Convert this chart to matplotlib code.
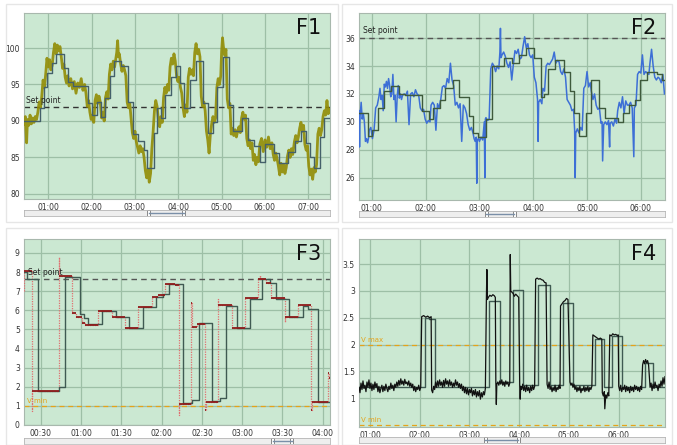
import matplotlib
matplotlib.use("Agg")
import matplotlib.pyplot as plt
from matplotlib.patches import Rectangle
from matplotlib.ticker import FuncFormatter, MultipleLocator

# ---------------- F1 ----------------
f1_t = [0.44, 0.47, 0.50, 0.52, 0.55, 0.58, 0.61, 0.64, 0.67, 0.70, 0.73,
        0.76, 0.79, 0.82, 0.85, 0.88, 0.91, 0.94,
        0.97, 1.00, 1.03, 1.06, 1.09,
        1.12, 1.15, 1.18, 1.21, 1.24, 1.27, 1.30,
        1.33, 1.36, 1.39, 1.42, 1.45, 1.48,
        1.52, 1.56, 1.60, 1.64, 1.68, 1.72, 1.76, 1.80, 1.84, 1.87,
        1.90, 1.93, 1.96, 1.99, 2.02, 2.05,
        2.08, 2.11, 2.14, 2.17, 2.20,
        2.23, 2.26, 2.29,
        2.32, 2.35, 2.38,
        2.41, 2.44, 2.47, 2.50, 2.53,
        2.56, 2.58, 2.60, 2.62, 2.64,
        2.67, 2.70, 2.73, 2.76, 2.79,
        2.82, 2.85, 2.88, 2.91,
        2.94, 2.97, 3.00, 3.03,
        3.06, 3.09, 3.12, 3.15, 3.18, 3.21,
        3.24, 3.27, 3.30, 3.33, 3.36,
        3.39, 3.42, 3.45, 3.48, 3.51,
        3.54, 3.57, 3.60, 3.63,
        3.66, 3.69, 3.72, 3.75, 3.78,
        3.81, 3.84, 3.87, 3.90, 3.93,
        3.96, 3.99, 4.02, 4.05, 4.08,
        4.11, 4.14, 4.17, 4.20,
        4.23, 4.26, 4.29, 4.32, 4.35,
        4.38, 4.41, 4.44, 4.47, 4.50,
        4.53, 4.56, 4.59, 4.62,
        4.65, 4.68, 4.71, 4.74,
        4.77, 4.80, 4.83, 4.86,
        4.89, 4.92, 4.95, 4.98,
        5.00, 5.02, 5.04, 5.07, 5.10,
        5.13, 5.16, 5.19,
        5.22, 5.25, 5.28, 5.31, 5.34, 5.37, 5.40, 5.43,
        5.46, 5.49, 5.52, 5.55,
        5.58, 5.61, 5.64, 5.67, 5.70,
        5.73, 5.76, 5.79, 5.82, 5.85,
        5.88, 5.92, 5.96, 6.00, 6.04, 6.08, 6.12, 6.16,
        6.19, 6.22, 6.25, 6.28,
        6.31, 6.34, 6.37, 6.40, 6.43, 6.46, 6.49,
        6.52, 6.55, 6.58, 6.61, 6.64,
        6.68, 6.71, 6.74, 6.77,
        6.80, 6.83, 6.86, 6.89,
        6.92, 6.95, 6.98,
        7.01, 7.04, 7.07, 7.10, 7.13, 7.16, 7.19,
        7.22, 7.25, 7.28, 7.31,
        7.34, 7.37, 7.40, 7.43, 7.46, 7.50]
f1_v = [89.6, 90.6, 87.0, 90.2, 89.4, 90.8, 89.6, 90.4, 89.8, 90.6, 90.2,
        91.2, 92.6, 91.8, 93.4, 95.6, 94.6, 96.4,
        98.6, 97.4, 98.4, 97.0, 97.6,
        99.4, 100.6, 99.2, 100.4, 99.6, 100.2, 98.8,
        97.2, 97.8, 96.0, 95.2, 96.2, 94.8,
        95.8, 94.4, 95.4, 93.8, 95.2, 94.6, 95.8, 94.2, 95.0, 93.8,
        92.0, 92.8, 91.2, 90.2, 90.8, 89.8,
        92.8, 93.6, 92.4, 93.4, 92.6,
        90.4, 91.2, 90.0,
        93.2, 94.0, 93.0,
        96.4, 97.8, 97.0, 98.2, 97.4,
        98.6, 99.4, 101.0, 98.8, 99.2,
        97.8, 96.8, 97.6, 97.0, 96.2,
        92.6, 91.8, 92.4, 90.4,
        88.4, 87.6, 88.6, 87.2,
        86.4, 85.6, 86.6, 85.8, 86.2, 85.0,
        83.2, 82.2, 83.4, 81.6, 82.8,
        86.2, 88.6, 91.4, 92.8, 92.0,
        90.2, 89.2, 90.6, 89.8,
        93.2, 94.6, 93.8, 95.0, 94.2,
        97.4, 98.6, 97.8, 99.2, 98.2,
        96.2, 95.4, 96.0, 94.6, 93.8,
        91.8, 90.6, 92.2, 91.2,
        96.0, 97.2, 96.4, 97.0, 96.2,
        99.4, 100.6, 99.2, 99.8, 98.8,
        93.4, 92.0, 92.6, 91.4,
        88.6, 87.4, 85.6, 88.2,
        89.6, 90.6, 89.8, 90.4,
        94.6, 95.8, 95.0, 96.2,
        99.6, 101.4, 100.2, 99.0, 99.8,
        93.0, 91.8, 92.4,
        88.2, 89.0, 88.0, 88.8, 87.8, 88.6, 89.2, 88.4,
        90.4, 91.2, 90.2, 90.8,
        87.6, 86.6, 87.4, 86.2, 87.0,
        84.6, 85.4, 84.0, 85.0, 84.4,
        86.8, 87.6, 85.8, 87.4, 86.4, 87.8, 86.2, 87.0,
        85.4, 84.6, 85.6, 84.8,
        83.8, 82.6, 84.2, 83.0, 84.0, 82.8, 83.6,
        85.2, 86.0, 85.0, 86.2, 85.4,
        87.2, 88.0, 87.0, 87.8,
        89.0, 89.8, 88.6, 89.4,
        86.8, 86.0, 86.6,
        83.8, 82.6, 83.4, 82.0, 83.6, 83.0, 84.0,
        88.2, 89.0, 88.0, 88.8,
        90.6, 91.4, 90.8, 92.8, 91.0, 91.6]
f1_step_t = [0.44, 0.80, 0.90, 0.98, 1.08, 1.18, 1.36, 1.46, 1.58, 1.92, 2.00,
             2.12, 2.22, 2.30, 2.42, 2.52, 2.68, 2.84, 2.96, 3.06, 3.20, 3.28,
             3.44, 3.52, 3.60, 3.70, 3.84, 3.94, 4.04, 4.14, 4.26, 4.40, 4.56,
             4.68, 4.80, 4.90, 5.02, 5.16, 5.26, 5.48, 5.60, 5.74, 5.88, 6.00,
             6.20, 6.32, 6.54, 6.70, 6.82, 6.94, 7.04, 7.14, 7.26, 7.36, 7.50]
f1_step_v = [90.0, 91.8, 94.6, 96.6, 98.0, 99.2, 97.2, 95.4, 94.8, 92.4, 90.8,
             92.6, 90.6, 93.2, 96.2, 98.2, 97.6, 92.6, 88.2, 87.2, 86.0, 83.6,
             88.4, 91.8, 90.4, 93.6, 96.0, 97.6, 95.2, 91.8, 95.6, 98.2, 92.4,
             88.4, 89.8, 94.6, 98.8, 92.2, 88.6, 90.4, 87.4, 86.6, 84.4, 86.8,
             85.6, 84.2, 85.8, 87.2, 88.6, 87.0, 85.0, 83.6, 87.8, 90.4, 90.4]
f1_setpoint = 91.9

# ---------------- F2 ----------------
f2_t = [0.76, 0.77, 0.78, 0.80, 0.82, 0.84, 0.86,
        0.88, 0.90, 0.92, 0.94,
        0.95, 0.98, 1.01, 1.04,
        1.07, 1.10,
        1.13, 1.15, 1.17, 1.19, 1.21,
        1.23, 1.25, 1.27, 1.29, 1.31, 1.33,
        1.35, 1.37, 1.39, 1.41, 1.43, 1.45, 1.47, 1.49, 1.51, 1.53, 1.55, 1.57,
        1.60, 1.63, 1.66, 1.69, 1.72, 1.75, 1.78, 1.81, 1.84, 1.87,
        1.90, 1.93, 1.96,
        1.99, 2.02, 2.05, 2.08,
        2.10, 2.13, 2.16, 2.19, 2.22, 2.25, 2.28,
        2.31, 2.34, 2.37,
        2.40, 2.43, 2.46, 2.49, 2.52,
        2.55, 2.58, 2.61, 2.64, 2.67, 2.70, 2.73, 2.76,
        2.79, 2.82, 2.85, 2.88,
        2.90, 2.92, 2.94, 2.95, 2.96, 2.98, 3.00, 3.03, 3.06, 3.09, 3.10, 3.11,
        3.12, 3.15, 3.18,
        3.21, 3.24, 3.27, 3.30, 3.33, 3.36,
        3.38, 3.39, 3.40,
        3.42, 3.45, 3.48,
        3.51, 3.54, 3.57, 3.60, 3.63,
        3.66, 3.69, 3.72,
        3.75, 3.78,
        3.81, 3.84, 3.87, 3.90,
        3.93, 3.96, 3.99,
        4.02, 4.05,
        4.08, 4.09, 4.10, 4.13, 4.16,
        4.18, 4.21,
        4.24, 4.27, 4.30,
        4.33, 4.36, 4.39, 4.42, 4.45, 4.48,
        4.51, 4.54, 4.57, 4.60,
        4.63, 4.66, 4.69, 4.72, 4.75,
        4.77, 4.78, 4.79, 4.82, 4.85,
        4.88, 4.91,
        4.94, 4.97, 5.00, 5.03, 5.06,
        5.08, 5.11, 5.14, 5.17,
        5.20, 5.23,
        5.26, 5.28, 5.29, 5.31, 5.34, 5.37, 5.40, 5.42, 5.43, 5.46, 5.49, 5.52, 5.55,
        5.57, 5.60, 5.63, 5.66, 5.69, 5.72, 5.75,
        5.78, 5.81, 5.84, 5.87, 5.88,
        5.91,
        5.94, 5.97, 6.00, 6.03, 6.06, 6.09, 6.12, 6.15,
        6.17, 6.20, 6.23,
        6.26, 6.29, 6.32, 6.35,
        6.38, 6.41, 6.44]
f2_v = [30.8, 28.2, 30.4, 31.4, 30.2, 30.6, 30.0,
        28.6, 28.8, 28.5, 28.9,
        29.4, 29.6, 28.8, 29.4,
        31.0, 31.2,
        31.8, 32.4, 31.6, 31.9, 30.8,
        32.7, 32.5, 32.9, 32.4, 33.1, 32.6,
        31.8, 32.0, 33.4, 31.6, 31.9, 30.0, 31.8, 32.6, 31.7, 32.0, 31.6, 31.9,
        32.0, 31.9, 32.2, 29.8, 32.0, 32.1, 31.8, 32.3, 32.0, 31.9,
        31.0, 30.8, 30.9,
        30.2, 29.9, 30.1, 30.0,
        31.2, 31.4, 31.2, 29.4, 31.3, 31.0, 31.6,
        32.5, 32.6, 32.4,
        33.1, 32.8, 34.2, 33.0, 32.6,
        31.2, 31.4, 31.0, 31.3, 28.6, 31.2, 31.0, 30.6,
        29.8, 29.4, 29.6, 29.2,
        28.8, 28.6, 28.9, 25.6, 28.7, 28.8, 28.6, 28.9, 28.7, 30.0, 26.0, 30.2,
        30.3, 30.1, 30.2,
        33.8, 34.2, 34.0, 33.6, 34.0, 33.8,
        35.0, 36.7, 34.6,
        34.8, 35.0, 34.7,
        34.2, 33.9, 34.3, 33.0, 34.1,
        35.1, 34.9, 35.2,
        34.5, 34.6,
        35.4, 36.1, 35.3, 35.6,
        34.8, 34.6, 34.8,
        33.2, 32.8,
        31.6, 28.6, 31.4, 31.6, 31.3,
        32.4, 32.2,
        34.0, 34.2, 34.1,
        34.3, 34.5, 35.0, 34.2, 34.4, 34.3,
        33.6, 33.4, 33.8, 33.2,
        31.6, 31.4, 31.2, 30.8, 30.9,
        29.4, 26.0, 29.2, 29.5, 29.2,
        29.6, 29.4,
        32.4, 32.6, 33.6, 32.5, 32.8,
        32.2, 31.6, 32.0, 31.2,
        30.9, 31.0,
        29.9, 30.0, 27.2, 29.8, 30.0, 29.8, 30.1, 28.2, 29.9, 30.0, 29.7, 30.2, 29.9,
        30.8, 31.4, 31.0, 31.8, 30.6, 31.5, 31.2,
        31.2, 31.4, 31.0, 27.5, 31.0,
        31.2,
        33.4, 33.6, 33.5, 34.8, 33.4, 33.6, 33.5, 33.4,
        34.2, 35.2, 34.0,
        33.2, 33.0, 33.2, 33.1,
        32.8, 33.4, 32.0]
f2_step_t = [0.76, 0.92, 1.00, 1.12, 1.22, 1.36, 1.50, 1.62, 1.94, 2.06, 2.14,
             2.26, 2.36, 2.50, 2.62, 2.80, 2.88, 2.98, 3.12, 3.24, 3.46, 3.60,
             3.74, 3.86, 4.02, 4.14, 4.20, 4.28, 4.40, 4.58, 4.68, 4.76, 4.86,
             4.98, 5.08, 5.22, 5.34, 5.58, 5.66, 5.78, 5.90, 5.98, 6.12, 6.30,
             6.40, 6.45]
f2_step_v = [30.6, 29.0, 29.4, 31.0, 32.2, 32.6, 32.0, 31.9, 30.8, 30.2, 31.0,
             31.6, 32.4, 33.0, 31.8, 30.4, 29.2, 28.9, 30.2, 34.0, 34.6, 34.2,
             34.8, 35.3, 34.6, 31.8, 32.0, 33.8, 34.4, 33.6, 32.2, 30.6, 29.0,
             30.6, 33.0, 31.0, 30.3, 30.0, 30.6, 31.2, 31.6, 33.0, 33.6, 33.4,
             33.0, 33.0]
f2_setpoint = 36.0

# ---------------- F3 ----------------
f3_t = [0.29, 0.295, 0.39, 0.395, 0.72, 0.725, 0.88, 0.94, 1.01, 1.05, 1.21,
        1.38, 1.55, 1.71, 1.88, 1.96, 2.04, 2.17, 2.21, 2.215, 2.37, 2.375,
        2.44, 2.54, 2.545, 2.70, 2.705, 2.87, 3.03, 3.20, 3.22, 3.225, 3.30,
        3.36, 3.53, 3.535, 3.69, 3.86, 3.865, 4.07, 4.075, 4.09]
f3_v = [7.0, 8.05, 0.75, 1.8, 8.8, 7.8, 5.84, 5.65, 5.35, 5.23, 5.96,
        5.67, 5.06, 6.19, 6.72, 6.8, 7.38, 7.3, 0.5, 1.08, 6.4, 5.15,
        5.3, 0.8, 1.2, 6.6, 6.27, 5.1, 6.62, 7.66, 7.85, 7.65, 7.45,
        6.62, 5.4, 5.66, 6.27, 0.8, 1.2, 2.7, 2.45, 2.45]
f3_step_t = [0.29, 0.33, 0.47, 0.72, 0.80, 0.98, 1.03, 1.09, 1.26, 1.43, 1.60,
             1.77, 1.93, 2.01, 2.09, 2.27, 2.38, 2.46, 2.62, 2.73, 2.80, 2.94,
             3.10, 3.25, 3.34, 3.42, 3.58, 3.75, 3.82, 3.94, 4.09]
f3_step_v = [8.0, 7.65, 1.8, 2.0, 7.75, 5.8, 5.6, 5.3, 5.95, 5.65, 5.05,
             6.15, 6.7, 6.85, 7.35, 1.15, 1.3, 5.35, 1.25, 1.4, 6.25, 5.1,
             6.6, 7.65, 7.45, 6.6, 5.65, 6.25, 6.05, 1.22, 1.22]
f3_setpoint = 7.65
f3_vmin = 1.0

# ---------------- F4 ----------------
f4_t = [0.78, 0.80, 0.82, 0.84, 0.86, 0.88, 0.90, 0.92, 0.94, 0.96, 0.98,
        1.00, 1.02, 1.04, 1.06, 1.08, 1.10, 1.12, 1.14, 1.16, 1.18, 1.20,
        1.22, 1.24, 1.26, 1.28, 1.30, 1.32, 1.34, 1.36, 1.38, 1.40, 1.42,
        1.44, 1.46, 1.48, 1.50, 1.52, 1.54, 1.56, 1.58, 1.60, 1.62, 1.64,
        1.66, 1.68, 1.70, 1.72, 1.74, 1.76, 1.78, 1.80, 1.82, 1.84, 1.86,
        1.88, 1.90, 1.92, 1.94, 1.96, 1.98, 2.00, 2.02,
        2.04, 2.08, 2.12, 2.16, 2.20, 2.23,
        2.24, 2.26, 2.28, 2.30, 2.32, 2.34, 2.36, 2.38, 2.40, 2.42, 2.44,
        2.46, 2.48, 2.50, 2.52, 2.54, 2.56, 2.58, 2.60, 2.62, 2.64, 2.66,
        2.68, 2.70, 2.72, 2.74, 2.76, 2.78, 2.80, 2.82, 2.84, 2.86, 2.88,
        2.90, 2.92, 2.94, 2.96, 2.98, 3.00, 3.02, 3.04, 3.06, 3.08, 3.10,
        3.12, 3.14, 3.16, 3.18, 3.20, 3.22, 3.24, 3.26, 3.28, 3.30, 3.32,
        3.34, 3.35, 3.36, 3.38, 3.41, 3.44, 3.47, 3.50, 3.52,
        3.53, 3.54, 3.55, 3.57, 3.59, 3.61, 3.63, 3.65, 3.67, 3.69, 3.71,
        3.73, 3.75, 3.77, 3.79, 3.81,
        3.82, 3.83, 3.85, 3.88, 3.90, 3.93, 3.96, 3.99,
        4.01, 4.02, 4.03, 4.05, 4.07, 4.09, 4.11, 4.13, 4.15, 4.17, 4.19,
        4.21, 4.23, 4.25, 4.27, 4.29, 4.31,
        4.33, 4.36, 4.39, 4.42, 4.45, 4.48, 4.51, 4.54,
        4.56, 4.58, 4.60, 4.62, 4.64, 4.66, 4.68, 4.70, 4.72, 4.74, 4.76,
        4.78, 4.80, 4.82,
        4.83, 4.86, 4.89, 4.92, 4.95, 4.98,
        5.02, 5.04, 5.06, 5.08, 5.10, 5.12, 5.14, 5.16, 5.18, 5.20, 5.22,
        5.24, 5.26, 5.28, 5.30, 5.32, 5.34, 5.36, 5.38, 5.40, 5.42, 5.44, 5.46,
        5.48, 5.51, 5.54, 5.57, 5.60, 5.63, 5.66,
        5.67, 5.69, 5.71, 5.72, 5.74, 5.76, 5.78, 5.80,
        5.82, 5.85, 5.88, 5.91, 5.94, 5.97, 5.99,
        6.00, 6.02, 6.04, 6.06, 6.08, 6.10, 6.12, 6.14, 6.16, 6.18, 6.20,
        6.22, 6.24, 6.26, 6.28, 6.30, 6.32, 6.34, 6.36, 6.38, 6.40, 6.42,
        6.44, 6.46,
        6.48, 6.50, 6.52, 6.54, 6.56, 6.58, 6.60,
        6.63, 6.65, 6.67, 6.69, 6.71, 6.73, 6.75, 6.77, 6.79, 6.81, 6.83,
        6.85, 6.87, 6.89, 6.91, 6.93]
f4_v = [1.20, 1.10, 1.28, 1.16, 1.32, 1.18, 1.24, 1.12, 1.30, 1.20, 1.34,
        1.18, 1.28, 1.14, 1.26, 1.16, 1.30, 1.20, 1.27, 1.12, 1.22, 1.10,
        1.18, 1.24, 1.12, 1.22, 1.14, 1.26, 1.18, 1.12, 1.22, 1.16, 1.28,
        1.18, 1.24, 1.14, 1.26, 1.20, 1.30, 1.22, 1.33, 1.24, 1.36, 1.26,
        1.32, 1.24, 1.35, 1.27, 1.30, 1.24, 1.32, 1.22, 1.28, 1.20, 1.26,
        1.14, 1.22, 1.12, 1.20, 1.16, 1.24, 1.14, 1.20,
        2.52, 2.54, 2.51, 2.53, 2.50, 2.52,
        1.15, 1.10, 1.22, 1.16, 1.30, 1.20, 1.32, 1.22, 1.34, 1.24, 1.30,
        1.20, 1.33, 1.22, 1.36, 1.26, 1.32, 1.22, 1.34, 1.24, 1.30, 1.20,
        1.28, 1.22, 1.34, 1.24, 1.30, 1.20, 1.27, 1.18, 1.26, 1.14, 1.22,
        1.10, 1.20, 1.08, 1.18, 1.06, 1.16, 1.10, 1.18, 1.04, 1.14, 1.06,
        1.16, 1.02, 1.12, 1.04, 1.14, 0.98, 1.10, 1.02, 1.12, 1.06, 1.18,
        2.85, 3.40, 2.84, 2.88, 2.92, 2.90, 2.93, 2.91, 2.88,
        1.30, 0.88, 1.26, 1.30, 1.24, 1.32, 1.26, 1.34, 1.24, 1.30, 1.22,
        1.32, 1.26, 1.30, 1.22, 1.28,
        3.68, 3.00, 2.98, 2.95, 2.90, 2.94, 2.91, 2.88,
        1.24, 0.98, 1.22, 1.16, 1.26, 1.14, 1.22, 1.12, 1.24, 1.14, 1.20,
        1.10, 1.22, 1.14, 1.24, 1.16, 1.22,
        3.22, 3.24, 3.22, 3.23, 3.21, 3.20, 3.16, 3.15,
        1.26, 1.18, 1.30, 1.16, 1.22, 1.12, 1.20, 1.14, 1.24, 1.12, 1.20,
        1.16, 1.24, 1.18,
        2.72, 2.76, 2.80, 2.82, 2.86, 2.84,
        1.30, 1.24, 1.28, 1.20, 1.26, 1.16, 1.22, 1.12, 1.20, 1.14, 1.22,
        1.10, 1.18, 1.14, 1.22, 1.12, 1.20, 1.14, 1.22, 1.12, 1.20, 1.16, 1.22,
        2.18, 2.16, 2.14, 2.12, 2.10, 2.12, 2.10,
        1.10, 1.04, 1.12, 0.80, 1.06, 1.00, 1.10, 1.04,
        2.18, 2.16, 2.20, 2.18, 2.19, 2.17, 2.18,
        1.22, 1.14, 1.24, 1.12, 1.20, 1.16, 1.24, 1.12, 1.22, 1.14, 1.20,
        1.10, 1.22, 1.14, 1.20, 1.12, 1.24, 1.16, 1.22, 1.14, 1.20, 1.12,
        1.22, 1.16,
        1.62, 1.70, 1.64, 1.72, 1.66, 1.70, 1.62,
        1.20, 1.28, 1.14, 1.26, 1.18, 1.30, 1.20, 1.24, 1.14, 1.26, 1.20,
        1.32, 1.22, 1.38, 1.26, 1.40]
f4_step_t = [0.78, 2.10, 2.18, 2.30, 3.40, 3.62, 3.88, 4.08, 4.38, 4.62,
             4.88, 5.08, 5.52, 5.70, 5.86, 6.06, 6.52, 6.68, 6.93]
f4_step_v = [1.20, 2.50, 2.48, 1.20, 2.82, 1.30, 3.02, 1.25, 3.12, 1.25,
             2.78, 1.25, 2.10, 1.20, 2.16, 1.20, 1.66, 1.20, 1.20]
f4_yticks = [1, 1.5, 2, 2.5, 3, 3.5]
f4_vmax = 2.0
f4_vmin = 0.5

BG = "#cbe8d2"
GRID = "#9dbfa6"
STEP = "#3f5a52"
ORANGE = "#e5a31a"
W, H = 677, 445


def fmt_time(h, _pos=None):
    total = int(round(h * 60))
    return f"{total // 60:02d}:{total % 60:02d}"


def setup_axes(ax, xlim, ylim, xstep, ystep, ytick_fmt, name):
    ax.set_facecolor(BG)
    ax.set_xlim(*xlim)
    ax.set_ylim(*ylim)
    ax.xaxis.set_major_locator(MultipleLocator(xstep))
    ax.yaxis.set_major_locator(MultipleLocator(ystep))
    ax.xaxis.set_major_formatter(FuncFormatter(fmt_time))
    ax.yaxis.set_major_formatter(FuncFormatter(ytick_fmt))
    ax.grid(True, color=GRID, linewidth=0.9)
    ax.set_axisbelow(True)
    ax.tick_params(length=0, labelsize=5.5, colors="#333333", pad=3)
    for s in ax.spines.values():
        s.set_color("#a8b8ad")
        s.set_linewidth(0.8)
    ax.text(0.93, 0.92, name, transform=ax.transAxes, fontsize=15,
            ha="center", va="center", color="#111111")


def px_axes(fig, x0, y0, x1, y1):
    return fig.add_axes([x0 / W, 1 - y1 / H, (x1 - x0) / W, (y1 - y0) / H])


def slider(fig, x0, x1, y, h0, h1):
    sax = px_axes(fig, x0, y - 3, x1, y + 3)
    sax.set_xlim(x0, x1)
    sax.set_ylim(0, 1)
    sax.set_facecolor("#eeeeee")
    for s in sax.spines.values():
        s.set_color("#b5b5b5")
        s.set_linewidth(0.6)
    sax.set_xticks([])
    sax.set_yticks([])
    sax.plot([h0, h1], [0.5, 0.5], color="#7a8fa8", lw=1)
    for hx in (h0, h1):
        sax.add_patch(Rectangle((hx - 1.5, 0.05), 3, 0.9, facecolor="white",
                                edgecolor="#777777", lw=0.6))


fig = plt.figure(figsize=(W / 100, H / 100), dpi=100)
fig.patch.set_facecolor("white")
for (x0, y0, x1, y1) in [(6, 4, 338, 222), (342, 4, 672, 222),
                         (6, 228, 338, 445), (342, 228, 672, 445)]:
    fig.add_artist(Rectangle((x0 / W, 1 - y1 / H), (x1 - x0) / W, (y1 - y0) / H,
                             transform=fig.transFigure, facecolor="none",
                             edgecolor="#e6e6e6", lw=1))

int_fmt = lambda v, _p=None: f"{v:g}"

# F1
ax1 = px_axes(fig, 24, 13, 330, 199)
setup_axes(ax1, (0.44, 7.5), (79.3, 104.8), 1.0, 5, int_fmt, "F1")
ax1.plot(f1_t, f1_v, color="#928c05", lw=2.0, alpha=0.9, zorder=3)
ax1.plot(f1_step_t, f1_step_v, drawstyle="steps-post", color="#44606a",
         lw=1.0, zorder=4)
ax1.axhline(f1_setpoint, color="#333333", lw=1, ls=(0, (4, 3)), zorder=2)
ax1.text(0.48, f1_setpoint + 0.3, "Set point", fontsize=5.5, color="#222222",
         va="bottom", zorder=5)
slider(fig, 24, 330, 213, 149, 184)

# F2
ax2 = px_axes(fig, 359, 13, 665, 200)
setup_axes(ax2, (0.76, 6.45), (24.4, 37.8), 1.0, 2, int_fmt, "F2")
ax2.plot(f2_t, f2_v, color="#3d6fd6", lw=1.1, zorder=3)
ax2.plot(f2_step_t, f2_step_v, drawstyle="steps-post", color="#3e5a3c",
         lw=1.0, zorder=4)
ax2.axhline(f2_setpoint, color="#555555", lw=1, ls=(0, (4, 3)), zorder=2)
ax2.text(0.84, f2_setpoint + 0.2, "Set point", fontsize=5.5, color="#222222",
         va="bottom", zorder=5)
slider(fig, 359, 665, 214, 486, 514)

# F3
ax3 = px_axes(fig, 24, 239, 330, 425)
setup_axes(ax3, (0.29, 4.09), (0, 9.73), 0.5, 1, int_fmt, "F3")
ax3.plot(f3_t, f3_v, drawstyle="steps-post", color="#e07070", lw=0.9,
         ls=(0, (1, 1)), zorder=3)
ax3.hlines(f3_v[:-1], f3_t[:-1], f3_t[1:], color="#8e1b1b", lw=1.3, zorder=4)
ax3.plot(f3_step_t, f3_step_v, drawstyle="steps-post", color=STEP,
         lw=1.0, zorder=3)
ax3.axhline(f3_setpoint, color="#555555", lw=1, ls=(0, (4, 3)), zorder=2)
ax3.axhline(f3_vmin, color=ORANGE, lw=0.9, ls=(0, (4, 3)), zorder=2)
ax3.text(0.34, f3_setpoint + 0.1, "Set point", fontsize=5.5, color="#222222",
         va="bottom", zorder=5)
ax3.text(0.33, f3_vmin + 0.1, "V min", fontsize=5, color=ORANGE,
         va="bottom", zorder=5)
slider(fig, 24, 330, 441, 273, 292)

# F4
ax4 = px_axes(fig, 359, 239, 665, 427)
setup_axes(ax4, (0.78, 6.93), (0.46, 3.97), 1.0, 0.5, int_fmt, "F4")
ax4.set_yticks(f4_yticks)
ax4.plot(f4_step_t, f4_step_v, drawstyle="steps-post", color=STEP,
         lw=1.0, zorder=3)
ax4.plot(f4_t, f4_v, color="#111111", lw=0.9, zorder=4)
ax4.axhline(f4_vmax, color=ORANGE, lw=0.9, ls=(0, (4, 3)), zorder=2)
ax4.axhline(f4_vmin, color=ORANGE, lw=0.9, ls=(0, (4, 3)), zorder=2)
ax4.text(0.83, f4_vmax + 0.03, "V max", fontsize=5, color=ORANGE,
         va="bottom", zorder=5)
ax4.text(0.83, f4_vmin + 0.03, "V min", fontsize=5, color=ORANGE,
         va="bottom", zorder=5)
slider(fig, 359, 665, 440, 485, 518)

fig.savefig("out.png", dpi=100, facecolor="white")
